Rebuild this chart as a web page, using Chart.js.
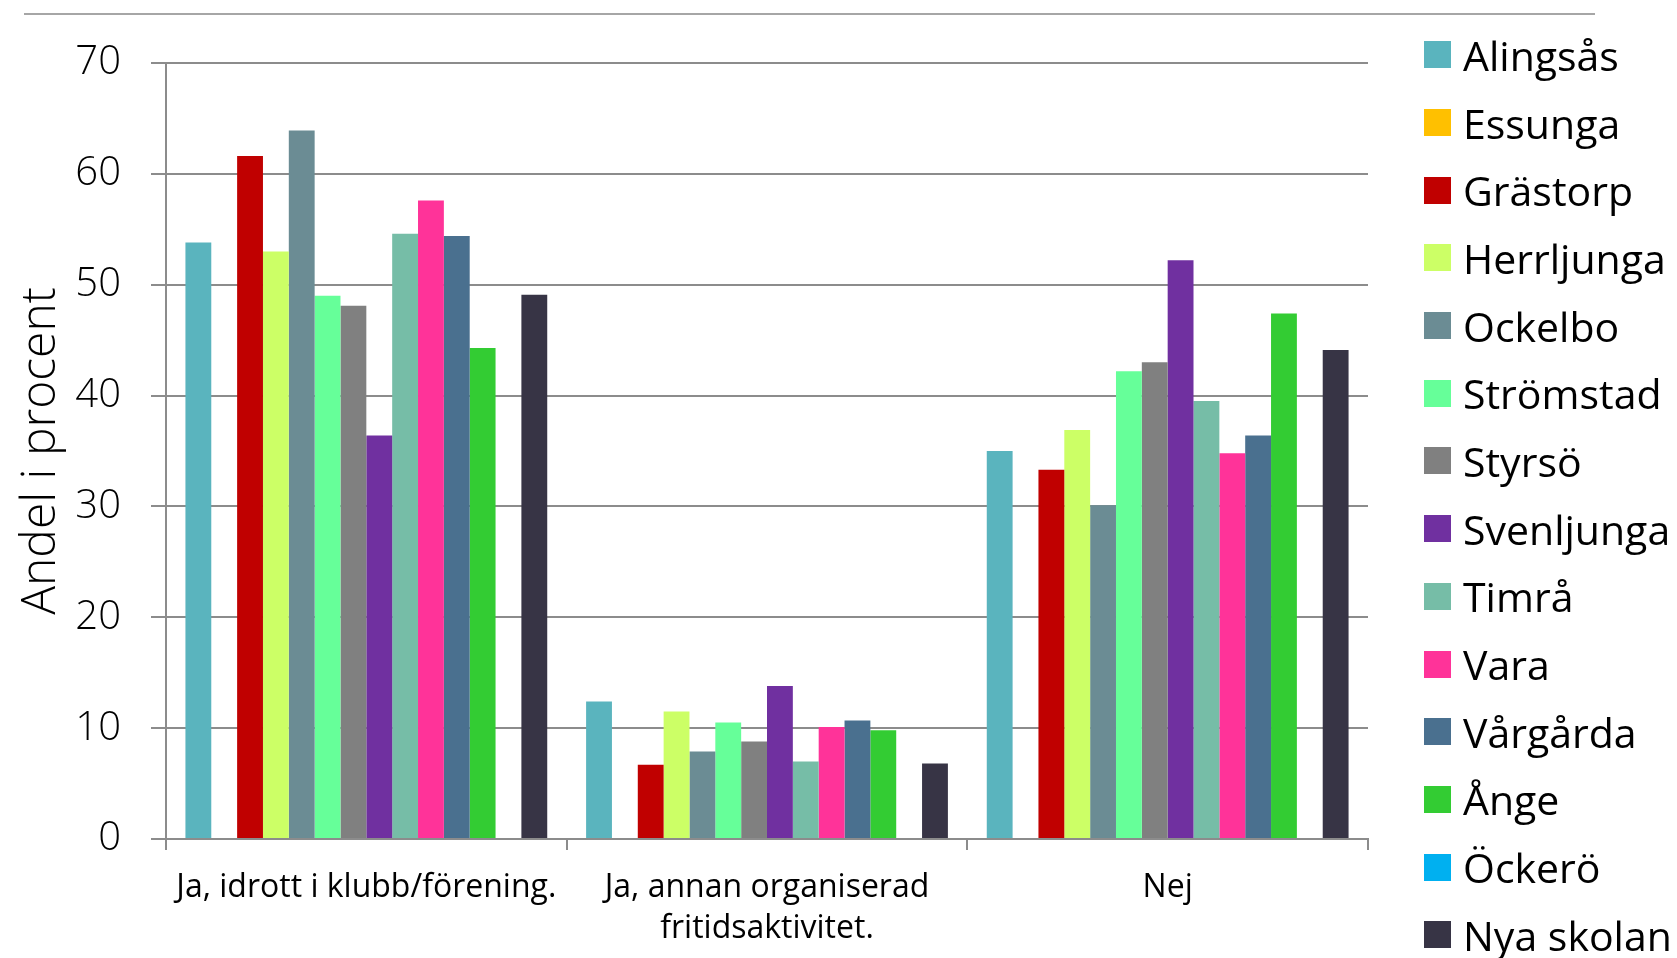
<!DOCTYPE html>
<html>
<head>
<meta charset="utf-8">
<script src="https://cdn.jsdelivr.net/npm/chart.js@4"></script>
<style>
  html, body { margin: 0; padding: 0; background: #fff; }
  #wrap { position: relative; width: 1677px; height: 958px; overflow: hidden; }
  #topLine { position: absolute; left: 24px; top: 13px; width: 1571px; border-top: 2px solid #a6a6a6; }
  #legend { position: absolute; left: 1424px; top: 21px; font-family: 'Open Sans', sans-serif; font-size: 41px; color: #000; }
  .item { height: 67.7px; display: flex; align-items: center; white-space: nowrap; }
  .box { width: 27px; height: 27px; margin-right: 12px; flex: none; }
</style>
</head>
<body>
<div id="wrap">
  <div id="topLine"></div>
  <canvas id="chart" width="1677" height="958"></canvas>
  <div id="legend"></div>
</div>
<script>
// answer categories (multi-line labels)
const categories = [
  ["Ja, idrott i klubb/förening."],
  ["Ja, annan organiserad", "fritidsaktivitet."],
  ["Nej"]
];

const schools = ["Alingsås", "Essunga", "Grästorp", "Herrljunga", "Ockelbo", "Strömstad", "Styrsö",
  "Svenljunga", "Timrå", "Vara", "Vårgårda", "Ånge", "Öckerö", "Nya skolan"];

const colors = ["#5ab4be", "#ffc000", "#c00000", "#ccff66", "#6b8c94", "#66ff99", "#808080",
  "#7030a0", "#76bda7", "#ff3399", "#4a708f", "#33cc33", "#00b0f0", "#373445"];

// values per school, one per category (null = no bar)
const alingsas   = [53.8, 12.4, 35.0];
const essunga    = [null, null, null];
const grastorp   = [61.6, 6.7, 33.3];
const herrljunga = [53.0, 11.5, 36.9];
const ockelbo    = [63.9, 7.9, 30.1];
const stromstad  = [49.0, 10.5, 42.2];
const styrso     = [48.1, 8.8, 43.0];
const svenljunga = [36.4, 13.8, 52.2];
const timra      = [54.6, 7.0, 39.5];
const vara       = [57.6, 10.1, 34.8];
const vargarda   = [54.4, 10.7, 36.4];
const ange       = [44.3, 9.8, 47.4];
const ockero     = [null, null, null];
const nyaSkolan  = [49.1, 6.8, 44.1];

const yTicks = [0, 10, 20, 30, 40, 50, 60, 70];

const series = [alingsas, essunga, grastorp, herrljunga, ockelbo, stromstad, styrso,
  svenljunga, timra, vara, vargarda, ange, ockero, nyaSkolan];

const gridColor = '#8c8c8c';
const fontFamily = "'Open Sans', sans-serif";

const datasets = schools.map((name, i) => ({
  label: name,
  data: series[i],
  backgroundColor: colors[i],
  borderWidth: 0
}));

new Chart(document.getElementById('chart'), {
  type: 'bar',
  data: { labels: categories, datasets: datasets },
  options: {
    responsive: false,
    animation: false,
    layout: { padding: { left: 13, right: 309, top: 63, bottom: 0 } },
    datasets: { bar: { categoryPercentage: 0.903, barPercentage: 1.0 } },
    plugins: {
      legend: { display: false },
      tooltip: { enabled: false }
    },
    scales: {
      x: {
        grid: { drawOnChartArea: false, tickLength: 11, color: gridColor, lineWidth: 2 },
        border: { color: gridColor, width: 2 },
        ticks: { font: { family: fontFamily, size: 32, lineHeight: 1.28 }, color: '#000', padding: 17, maxRotation: 0 },
        afterFit: s => { s.height = 119; }
      },
      y: {
        min: yTicks[0],
        max: yTicks[yTicks.length - 1],
        afterBuildTicks: s => { s.ticks = yTicks.map(v => ({ value: v })); },
        ticks: { font: { family: fontFamily, size: 40, weight: 300 }, color: '#000', padding: 30 },
        grid: { color: gridColor, lineWidth: 2, tickLength: 15 },
        border: { color: gridColor, width: 2 },
        title: { display: true, text: 'Andel i procent', color: '#000',
          font: { family: fontFamily, size: 48, weight: 300 }, padding: 0 },
        afterFit: s => { s.width = 153; }
      }
    }
  }
});

// legend built from the same arrays
const legend = document.getElementById('legend');
schools.forEach((name, i) => {
  const row = document.createElement('div');
  row.className = 'item';
  const box = document.createElement('span');
  box.className = 'box';
  box.style.background = colors[i];
  const txt = document.createElement('span');
  txt.textContent = name;
  row.appendChild(box);
  row.appendChild(txt);
  legend.appendChild(row);
});
</script>
</body>
</html>
